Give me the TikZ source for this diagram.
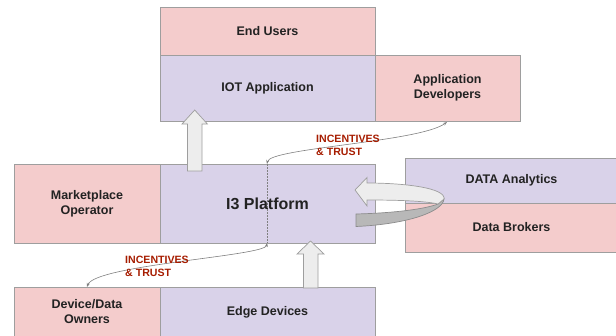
\documentclass[tikz,border=0pt]{standalone}
\usepackage{fontspec}
\setmainfont{Liberation Sans}
\usetikzlibrary{arrows.meta}
\definecolor{pinkbox}{HTML}{F4CCCC}
\definecolor{lavbox}{HTML}{D9D2E9}
\definecolor{edgec}{HTML}{9E9E9E}
\definecolor{darkred}{HTML}{A61C00}
\definecolor{txt}{HTML}{222222}
\begin{document}
\begin{tikzpicture}[x=1pt,y=-1pt,
  box/.style={draw=edgec, line width=0.8pt, inner sep=0pt, align=center,
    font=\fontsize{12.5}{15}\selectfont\bfseries, text=txt},
  pinkb/.style={box, fill=pinkbox},
  lavb/.style={box, fill=lavbox},
  lbl/.style={text=darkred, font=\fontsize{10.6}{13}\selectfont\bfseries, align=left, inner sep=0pt, anchor=west},
  link/.style={draw=gray, line width=0.6pt, {Stealth[length=4pt,width=3pt]}-{Stealth[length=4pt,width=3pt]}},
  blockarrow/.style={draw=edgec, fill=black!7, line width=0.7pt},
  bandgray/.style={draw=black!45, fill=black!28, line width=0.7pt}]
\useasboundingbox (0,0) rectangle (616,335);
% boxes
\node[pinkb, minimum width=215pt, minimum height=48pt] (eu) at (267.5,31) {End Users};
\node[lavb, minimum width=215pt, minimum height=66pt] (iot) at (267.5,88) {IOT Application};
\node[pinkb, minimum width=145pt, minimum height=66pt] (ad) at (447.5,88) {Application\\Developers};
\node[pinkb, minimum width=146pt, minimum height=79pt] (mo) at (87,203.5) {Marketplace\\Operator};
\node[lavb, minimum width=215pt, minimum height=79pt, font=\fontsize{16}{19}\selectfont\bfseries] (i3) at (267.5,203.5) {I3 Platform};
\node[lavb, minimum width=213pt, minimum height=45pt] (da) at (511.5,180.5) {DATA Analytics};
\node[pinkb, minimum width=213pt, minimum height=49pt] (dbk) at (511.5,227.5) {Data Brokers};
\node[pinkb, minimum width=146pt, minimum height=50pt] (ow) at (87,312) {Device/Data\\Owners};
\node[lavb, minimum width=215pt, minimum height=50pt] (ed) at (267.5,312) {Edge Devices};
% dotted divider in platform
\coordinate (dtop) at (267,164);
\coordinate (dbot) at (267,243);
\coordinate (adin) at (447,122);
\coordinate (owin) at (87,287);
\draw[gray, line width=0.6pt, dash pattern=on 1.5pt off 1.5pt] (dtop) -- (dbot);
% incentive links
\draw[link] (dtop) .. controls (270,148) and (420,142) .. (adin);
\draw[link] (dbot) .. controls (265,256) and (95,265) .. (owin);
\node[lbl] (lt) at (316,145.5) {INCENTIVES\\\& TRUST};
\node[lbl] (lb) at (125,266.5) {INCENTIVES\\\& TRUST};
% block arrows
\draw[blockarrow] (187.5,171) -- (187.5,124) -- (182,124) -- (194.7,110) -- (207.4,124) -- (202,124) -- (202,171) -- cycle;
\draw[blockarrow] (303.5,288) -- (303.5,254) -- (297,254) -- (310.5,241) -- (324,254) -- (318,254) -- (318,288) -- cycle;
% loop arrow
\draw[bandgray] (356,214) .. controls (395,213) and (425,209) .. (438,204)
  -- (444,199) .. controls (443,211) and (410,224) .. (356,226.5) -- cycle;
\draw[blockarrow] (355,190) -- (367,177.5) -- (367,183)
  .. controls (405,183) and (446,188) .. (444,199)
  -- (438,204) .. controls (425,201) and (400,200) .. (367,200)
  -- (367,206) -- cycle;
\end{tikzpicture}
\end{document}
